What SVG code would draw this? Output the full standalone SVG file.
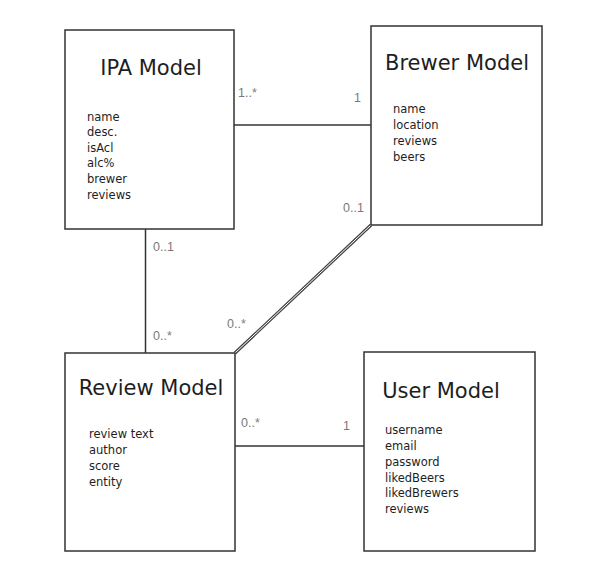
<svg xmlns="http://www.w3.org/2000/svg" width="608" height="573" viewBox="0 0 608 573">
<style>
.box{fill:#fff;stroke:#333;stroke-width:1.5}
.title{font-family:"DejaVu Sans","Liberation Sans",sans-serif;font-size:21px;fill:#1e1e1e}
.attr{font-family:"DejaVu Sans","Liberation Sans",sans-serif;font-size:11.5px;fill:#1e1e1e}
.lbl{font-family:"Liberation Sans",Arial,sans-serif;font-size:12.5px;fill:#7a7a7a}
.edge{fill:none;stroke:#333;stroke-width:1.5}
</style>
<rect width="608" height="573" fill="#fff"/>
<g id="connectors">
<line class="edge" x1="234" y1="125" x2="371" y2="125"/>
<line class="edge" x1="145.5" y1="229" x2="145.5" y2="353"/>
<line x1="235" y1="353" x2="371" y2="225" stroke="#444" stroke-width="3.2"/>
<line x1="235" y1="353" x2="371" y2="225" stroke="#fff" stroke-width="1"/>
<line class="edge" x1="235" y1="446" x2="364" y2="446"/>
<text class="lbl" x="238" y="97">1..*</text>
<text class="lbl" x="354" y="102">1</text>
<text class="lbl" x="343" y="212">0..1</text>
<text class="lbl" x="153" y="251">0..1</text>
<text class="lbl" x="153" y="340">0..*</text>
<text class="lbl" x="227" y="328">0..*</text>
<text class="lbl" x="241" y="427">0..*</text>
<text class="lbl" x="343" y="430">1</text>
</g>
<g id="ipa">
<rect class="box" x="65" y="30" width="169" height="199"/>
<text class="title" x="151" y="75" text-anchor="middle">IPA Model</text>
<text class="attr" x="87" y="121">name</text>
<text class="attr" x="87" y="136">desc.</text>
<text class="attr" x="87" y="152">isAcl</text>
<text class="attr" x="87" y="167">alc%</text>
<text class="attr" x="87" y="183">brewer</text>
<text class="attr" x="87" y="199">reviews</text>
</g>
<g id="brewer">
<rect class="box" x="371" y="26" width="171" height="199"/>
<text class="title" x="457" y="70" text-anchor="middle">Brewer Model</text>
<text class="attr" x="393" y="113">name</text>
<text class="attr" x="393" y="129">location</text>
<text class="attr" x="393" y="145">reviews</text>
<text class="attr" x="393" y="161">beers</text>
</g>
<g id="review">
<rect class="box" x="65" y="353" width="170" height="198"/>
<text class="title" x="151" y="395" text-anchor="middle">Review Model</text>
<text class="attr" x="89" y="438">review text</text>
<text class="attr" x="89" y="454">author</text>
<text class="attr" x="89" y="470">score</text>
<text class="attr" x="89" y="486">entity</text>
</g>
<g id="user">
<rect class="box" x="364" y="352" width="171" height="199"/>
<text class="title" x="441" y="398" text-anchor="middle">User Model</text>
<text class="attr" x="385" y="434">username</text>
<text class="attr" x="385" y="450">email</text>
<text class="attr" x="385" y="466">password</text>
<text class="attr" x="385" y="482">likedBeers</text>
<text class="attr" x="385" y="497">likedBrewers</text>
<text class="attr" x="385" y="513">reviews</text>
</g>
</svg>
